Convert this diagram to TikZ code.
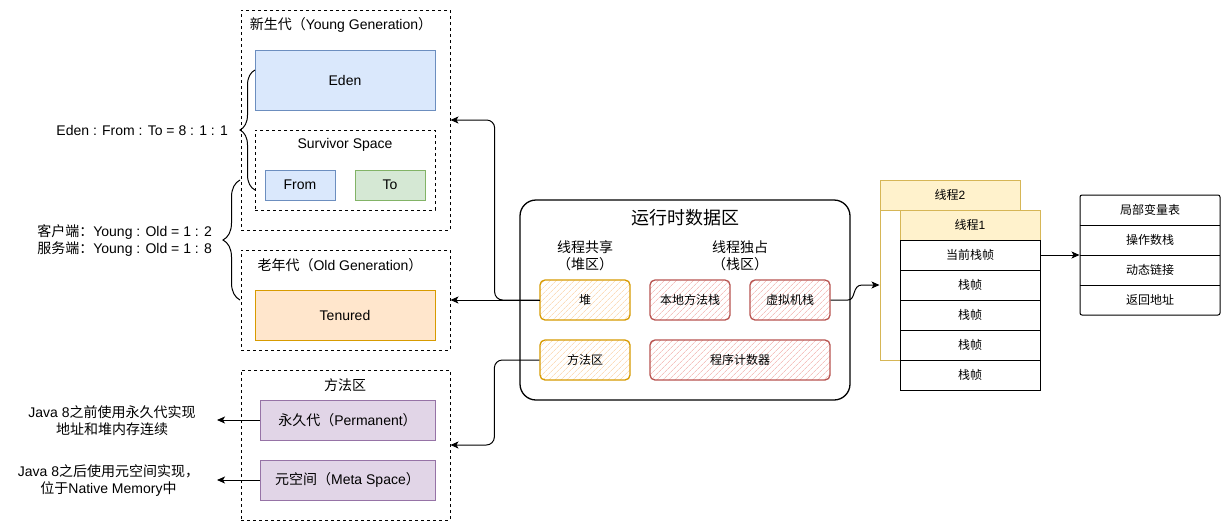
\documentclass[tikz,border=0pt]{standalone}
\usepackage{fontspec}
\setmainfont{Liberation Sans}
\newfontfamily\cjk{Noto Sans CJK SC}
\newcommand\C[1]{{\cjk #1}}
\usetikzlibrary{arrows.meta,patterns.meta,decorations.pathreplacing}
\definecolor{bluefill}{HTML}{DAE8FC}
\definecolor{blueline}{HTML}{6C8EBF}
\definecolor{greenfill}{HTML}{D5E8D4}
\definecolor{greenline}{HTML}{82B366}
\definecolor{orangefill}{HTML}{FFE6CC}
\definecolor{orangeline}{HTML}{D79B00}
\definecolor{purplefill}{HTML}{E1D5E7}
\definecolor{purpleline}{HTML}{9673A6}
\definecolor{yfill}{HTML}{FFF2CC}
\definecolor{yline}{HTML}{D6B656}
\definecolor{redline}{HTML}{B85450}
\definecolor{redhatch}{HTML}{F5C2BF}
\definecolor{ohatch}{HTML}{FCDDBB}
\tikzset{
  f14/.style={font=\fontsize{14}{17}\selectfont},
  f14c/.style={font=\cjk\fontsize{14}{17}\selectfont},
  f12/.style={font=\fontsize{12}{15}\selectfont},
  f12c/.style={font=\cjk\fontsize{12}{15}\selectfont},
  sz/.style 2 args={minimum width=#1pt,minimum height=#2pt},
  dbox/.style={draw, line width=0.9pt, dash pattern=on 3pt off 3pt},
  bluebox/.style={draw=blueline, fill=bluefill, line width=1pt},
  greenbox/.style={draw=greenline, fill=greenfill, line width=1pt},
  orangebox/.style={draw=orangeline, fill=orangefill, line width=1pt},
  purplebox/.style={draw=purpleline, fill=purplefill, line width=1pt},
  hatchO/.style={draw=orangeline, line width=1.3pt, rounded corners=5pt,
    pattern={Lines[angle=45,distance=4pt,line width=0.7pt]}, pattern color=ohatch, f12c},
  hatchR/.style={draw=redline, line width=1.3pt, rounded corners=5pt,
    pattern={Lines[angle=45,distance=4pt,line width=0.7pt]}, pattern color=redhatch, f12c},
  rowbox/.style={draw=black, fill=white, line width=1pt, sz={140}{30}, f12c},
  arr/.style={line width=1pt, -{Stealth[length=8pt,width=7pt,inset=2pt]}},
  brace/.style={line width=1pt, decorate, decoration={brace, amplitude=#1pt}},
}
\begin{document}
\begin{tikzpicture}[x=1pt,y=-1pt, every node/.style={inner sep=0pt}]
\fill[white] (0,0) rectangle (1231,531);
\useasboundingbox (0,0) rectangle (1231,531);

% Young generation
\node[dbox, sz={209}{220}] (young) at (345.5,120) {};
\node[f14] (youngT) at (341,25) {\C{新生代（}Young Generation\C{）}};
\node[bluebox, sz={180}{60}, f14] (eden) at (345,80) {Eden};
\node[dbox, sz={180}{80}] (surv) at (345,170) {};
\node[f14] (survT) at (345,145) {Survivor Space};
\node[bluebox, sz={70}{30}, f14] (from) at (300,185) {From};
\node[greenbox, sz={70}{30}, f14] (to) at (390,185) {To};

% Old generation
\node[dbox, sz={209}{100}] (old) at (345.5,300) {};
\node[f14] (oldT) at (340,265) {\C{老年代（}Old Generation\C{）}};
\node[orangebox, sz={180}{50}, f14] (ten) at (345,315) {Tenured};

% Method area
\node[dbox, sz={209}{150}] (meth) at (345.5,445) {};
\node[f14c] (methT) at (345,385) {方法区};
\node[purplebox, sz={175}{40}, f14] (perm) at (347.5,420) {\C{永久代（}Permanent\C{）}};
\node[purplebox, sz={175}{40}, f14] (meta) at (347.5,480) {\C{元空间（}Meta Space\C{）}};

% labels on the left
\node[f14, anchor=east] (ratio1) at (228,130) {Eden : From : To = 8 : 1 : 1};
\node[f14, anchor=east, align=left] (ratio2) at (212,240.5) {\C{客户端：}Young : Old = 1 : 2\\\C{服务端：}Young : Old = 1 : 8};
\node[f14, align=center] (j7) at (112,420.5) {Java 8\C{之前使用永久代实现}\\\C{地址和堆内存连续}};
\node[f14, align=center] (j8) at (108.5,480.5) {Java 8\C{之后使用元空间实现，}\\\C{位于}Native Memory\C{中}};
\coordinate (j7e) at (217,420);
\coordinate (j8e) at (217,480);
\draw[arr] (perm.west) -- (j7e);
\draw[arr] (meta.west) -- (j8e);

% braces
\coordinate (b1a) at (255,190);
\coordinate (b1b) at (255,70);
\draw[brace=15] (b1a) -- (b1b);
\coordinate (b2a) at (240,300);
\coordinate (b2b) at (240,180);
\draw[brace=17] (b2a) -- (b2b);

% Runtime data area
\node[draw, line width=1.3pt, rounded corners=16pt, sz={330}{200}] (rt) at (685,300) {};
\node[font=\cjk\fontsize{18}{21}\selectfont] (rtT) at (685,218) {运行时数据区};
\node[font=\cjk\fontsize{14}{17}\selectfont, align=center] (shared) at (585,256) {线程共享\\（堆区）};
\node[font=\cjk\fontsize{14}{17}\selectfont, align=center] (priv) at (740,256) {线程独占\\（栈区）};

\node[hatchO, sz={90}{40}] (heap) at (585,300) {堆};
\node[hatchO, sz={90}{40}] (ma) at (585,360) {方法区};
\node[hatchR, sz={80}{40}] (nms) at (690,300) {本地方法栈};
\node[hatchR, sz={80}{40}] (vms) at (790,300) {虚拟机栈};
\node[hatchR, sz={180}{40}] (pc) at (740,360) {程序计数器};

% connectors from runtime area
\draw[arr, rounded corners=8pt] (heap.west) -- ++(-45,0) |- (young.east);
\draw[arr] (heap.west) -- (old.east);
\draw[arr, rounded corners=8pt] (ma.west) -- ++(-45,0) |- (meth.east);

% Threads
\node[draw=yline, fill=white, line width=1pt, sz={140}{180}] (t2) at (950,270) {};
\node[draw=yline, fill=yfill, line width=1pt, sz={140}{30}, f12] (t2h) at (950,195) {\C{线程}2};
\node[draw=yline, fill=yfill, line width=1pt, sz={140}{30}, f12] (t1h) at (970,225) {\C{线程}1};
\node[rowbox] (r1) at (970,255) {当前栈帧};
\node[rowbox] (r2) at (970,285) {栈帧};
\node[rowbox] (r3) at (970,315) {栈帧};
\node[rowbox] (r4) at (970,345) {栈帧};
\node[rowbox] (r5) at (970,375) {栈帧};

\draw[arr] (vms.east) -- (848,300) .. controls (856,300) and (852,285) .. (862,285) -- ([yshift=-15pt]t2.west);

% Stack frame
\node[f12c, sz={140}{30}] (f1) at (1150,210) {局部变量表};
\node[f12c, sz={140}{30}] (f2) at (1150,240) {操作数栈};
\node[f12c, sz={140}{30}] (f3) at (1150,270) {动态链接};
\node[f12c, sz={140}{30}] (f4) at (1150,300) {返回地址};
\node[draw, line width=1pt, rounded corners=2pt, sz={140}{120}] (frame) at (1150,255) {};
\draw[line width=1pt] (f1.south west) -- (f1.south east);
\draw[line width=1pt] (f2.south west) -- (f2.south east);
\draw[line width=1pt] (f3.south west) -- (f3.south east);

\draw[arr] (r1.east) -- (frame.west);
\end{tikzpicture}
\end{document}
